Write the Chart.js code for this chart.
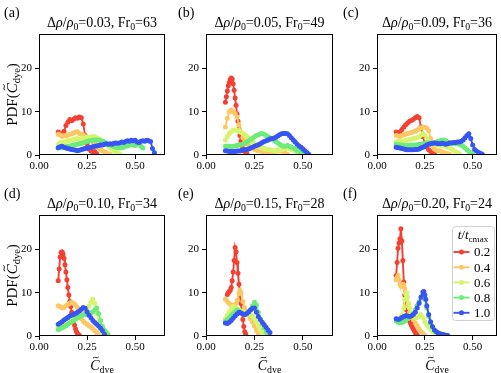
<!DOCTYPE html>
<html><head><meta charset="utf-8">
<script src="https://cdn.jsdelivr.net/npm/chart.js@4/dist/chart.umd.min.js"></script>
<style>
html,body{margin:0;padding:0;background:#fff;width:501px;height:373px;overflow:hidden;position:relative}
canvas{position:absolute}
</style></head><body>
<script>
// ---------- DATA ----------
const panelLabels = ['(a)','(b)','(c)','(d)','(e)','(f)'];
const densityRatios = ['0.03','0.05','0.09','0.10','0.15','0.20'];
const froudeNumbers = ['63','49','36','34','28','24'];
const timeFractions = ['0.2','0.4','0.6','0.8','1.0'];
const xTicks = [0, 0.25, 0.5];
const yTicks = [0, 10, 20];

// panel (a)
const a02 = [[0.10,5.3],[0.11,5.0],[0.12,4.7],[0.13,5.5],[0.14,6.8],[0.15,7.6],[0.16,8.2],[0.17,7.9],[0.18,8.3],[0.19,8.6],[0.20,8.5],[0.21,8.8],[0.22,8.6],[0.23,7.2],[0.24,4.5],[0.25,2.6],[0.26,1.4],[0.27,0.9],[0.28,0.7],[0.29,0.8],[0.30,0.3]];
const a04 = [[0.10,4.8],[0.11,4.6],[0.12,4.3],[0.13,4.5],[0.14,4.4],[0.15,4.6],[0.16,4.8],[0.17,4.9],[0.18,5.1],[0.19,5.3],[0.20,5.4],[0.21,5.0],[0.22,4.8],[0.23,4.6],[0.24,4.3],[0.25,4.0],[0.26,3.8],[0.27,3.5],[0.28,3.0],[0.29,2.6],[0.30,2.2],[0.31,1.7],[0.32,1.3],[0.33,1.0],[0.34,0.7],[0.35,0.5],[0.36,0.3],[0.37,0.2]];
const a06 = [[0.10,2.5],[0.11,2.8],[0.12,3.0],[0.13,3.0],[0.14,3.2],[0.15,3.3],[0.16,3.4],[0.17,3.5],[0.18,3.6],[0.19,3.7],[0.20,3.8],[0.21,3.6],[0.22,3.7],[0.23,3.9],[0.24,4.0],[0.25,4.1],[0.26,4.0],[0.27,4.2],[0.28,4.3],[0.29,4.2],[0.30,4.0],[0.31,3.8],[0.32,3.6],[0.33,3.2],[0.34,2.8],[0.35,2.4],[0.36,2.0],[0.37,1.7],[0.38,1.3],[0.39,1.0],[0.40,0.7],[0.41,0.4],[0.42,0.2]];
const a08 = [[0.10,1.6],[0.11,1.7],[0.12,1.8],[0.13,1.8],[0.14,1.9],[0.15,2.0],[0.16,2.1],[0.17,2.2],[0.18,2.3],[0.19,2.4],[0.20,2.5],[0.21,2.6],[0.22,2.7],[0.23,2.8],[0.24,3.0],[0.25,3.1],[0.26,3.3],[0.27,3.3],[0.28,3.4],[0.29,3.5],[0.30,3.5],[0.31,3.4],[0.32,3.3],[0.33,3.1],[0.34,3.0],[0.35,2.7],[0.36,2.5],[0.37,2.3],[0.38,2.1],[0.39,1.9],[0.40,1.8],[0.41,1.7],[0.42,1.6],[0.43,1.7],[0.44,1.8],[0.45,2.0],[0.46,2.1],[0.47,2.3],[0.48,2.4],[0.49,2.3],[0.50,2.2],[0.51,2.6],[0.52,2.5],[0.53,2.0],[0.54,1.6]];
const a10 = [[0.10,1.7],[0.11,1.9],[0.12,2.0],[0.13,1.8],[0.14,1.6],[0.15,1.5],[0.16,1.4],[0.17,1.3],[0.18,1.2],[0.19,1.1],[0.20,1.0],[0.21,1.1],[0.22,1.3],[0.23,1.4],[0.24,1.5],[0.25,1.6],[0.26,1.7],[0.27,1.8],[0.28,1.9],[0.29,2.0],[0.30,2.1],[0.31,2.2],[0.32,2.3],[0.33,2.3],[0.34,2.5],[0.35,2.6],[0.36,2.5],[0.37,2.6],[0.38,2.5],[0.39,2.7],[0.40,2.8],[0.41,2.7],[0.42,2.8],[0.43,3.0],[0.44,2.9],[0.45,3.1],[0.46,3.3],[0.47,3.2],[0.48,3.4],[0.49,3.3],[0.50,3.4],[0.51,3.0],[0.52,2.9],[0.53,3.2],[0.54,3.3],[0.55,3.2],[0.56,3.4],[0.57,3.3],[0.58,3.1],[0.59,1.5],[0.60,0.5]];

// panel (b)
const b02 = [[0.10,12.2],[0.105,13.5],[0.11,14.8],[0.115,16.0],[0.12,16.8],[0.125,17.5],[0.13,17.8],[0.135,17.6],[0.14,16.5],[0.145,15.0],[0.15,13.2],[0.155,11.5],[0.16,9.5],[0.165,7.8],[0.17,6.0],[0.175,4.5],[0.18,3.2],[0.185,2.2],[0.19,1.5],[0.20,0.8],[0.21,0.4]];
const b04 = [[0.10,6.5],[0.11,8.5],[0.12,10.0],[0.13,10.5],[0.14,10.0],[0.15,9.6],[0.16,8.8],[0.17,7.0],[0.18,5.2],[0.19,4.0],[0.20,3.2],[0.21,2.6],[0.22,2.2],[0.23,1.8],[0.24,1.5],[0.25,1.3],[0.26,1.1],[0.27,1.0],[0.28,0.9],[0.29,0.8],[0.30,0.7],[0.31,0.6],[0.32,0.5],[0.33,0.5],[0.34,0.6],[0.35,0.7],[0.36,0.8],[0.37,0.9],[0.38,1.0],[0.39,0.9],[0.40,0.7],[0.41,0.4],[0.42,0.2]];
const b06 = [[0.10,3.5],[0.11,4.3],[0.12,5.0],[0.13,5.4],[0.14,5.7],[0.15,5.8],[0.16,5.8],[0.17,5.6],[0.18,5.4],[0.19,5.0],[0.20,4.7],[0.21,4.3],[0.22,3.9],[0.23,3.4],[0.24,3.0],[0.25,2.6],[0.26,2.3],[0.27,2.0],[0.28,1.8],[0.29,1.6],[0.30,1.5],[0.31,1.4],[0.32,1.3],[0.33,1.2],[0.34,1.1],[0.35,1.0],[0.36,1.0],[0.37,1.1],[0.38,1.2],[0.39,1.3],[0.40,1.4],[0.41,1.5],[0.42,1.6],[0.43,1.5],[0.44,1.3],[0.45,1.1],[0.46,0.9],[0.47,0.6],[0.48,0.3]];
const b08 = [[0.10,2.0],[0.11,2.0],[0.12,2.0],[0.13,1.9],[0.14,2.0],[0.15,2.1],[0.16,2.2],[0.17,2.3],[0.18,2.4],[0.19,2.5],[0.20,2.7],[0.21,3.0],[0.22,3.3],[0.23,3.6],[0.24,3.9],[0.25,4.2],[0.26,4.5],[0.27,4.7],[0.28,4.9],[0.29,5.0],[0.30,4.8],[0.31,4.5],[0.32,4.2],[0.33,4.0],[0.34,3.7],[0.35,3.4],[0.36,3.1],[0.37,2.8],[0.38,2.5],[0.39,2.2],[0.40,2.0],[0.41,2.1],[0.42,2.2],[0.43,2.0],[0.44,1.8],[0.45,1.6],[0.46,1.4],[0.47,1.1],[0.48,0.8],[0.49,0.5],[0.50,0.3]];
const b10 = [[0.10,1.0],[0.11,0.9],[0.12,0.8],[0.13,0.8],[0.14,0.8],[0.15,0.8],[0.16,0.9],[0.17,0.9],[0.18,1.0],[0.19,1.1],[0.20,1.2],[0.21,1.3],[0.22,1.4],[0.23,1.6],[0.24,1.8],[0.25,2.0],[0.26,2.2],[0.27,2.4],[0.28,2.6],[0.29,2.9],[0.30,3.1],[0.31,3.3],[0.32,3.5],[0.33,3.7],[0.34,3.8],[0.35,3.9],[0.36,4.1],[0.37,4.4],[0.38,4.7],[0.39,4.9],[0.40,5.0],[0.41,5.0],[0.42,4.9],[0.43,4.5],[0.44,4.0],[0.45,3.5],[0.46,3.0],[0.47,2.5],[0.48,2.1],[0.49,1.8],[0.50,1.4],[0.51,1.0],[0.52,0.6],[0.53,0.2]];

// panel (c)
const c02 = [[0.10,5.3],[0.11,5.0],[0.12,5.3],[0.13,5.9],[0.14,6.5],[0.15,7.0],[0.16,7.4],[0.17,7.8],[0.18,8.0],[0.19,8.3],[0.20,8.6],[0.21,8.9],[0.22,8.6],[0.23,6.5],[0.24,4.2],[0.25,2.8],[0.26,1.9],[0.27,1.2],[0.28,0.8],[0.29,0.6],[0.30,0.3]];
const c04 = [[0.10,4.5],[0.11,4.4],[0.12,4.3],[0.13,4.5],[0.14,4.7],[0.15,4.8],[0.16,5.0],[0.17,5.1],[0.18,5.2],[0.19,5.4],[0.20,5.5],[0.21,5.8],[0.22,6.0],[0.23,6.3],[0.24,6.5],[0.25,6.4],[0.26,6.2],[0.27,5.6],[0.28,3.8],[0.29,2.2],[0.30,1.4],[0.31,1.1],[0.32,1.0],[0.33,0.9],[0.34,0.7],[0.35,0.5],[0.36,0.4],[0.37,0.3],[0.38,0.2]];
const c06 = [[0.10,3.0],[0.11,3.1],[0.12,3.2],[0.13,3.2],[0.14,3.3],[0.15,3.4],[0.16,3.5],[0.17,3.6],[0.18,3.7],[0.19,3.8],[0.20,3.9],[0.21,4.0],[0.22,4.2],[0.23,4.6],[0.24,5.0],[0.25,4.6],[0.26,3.8],[0.27,3.2],[0.28,2.8],[0.29,2.6],[0.30,2.5],[0.31,2.4],[0.32,2.3],[0.33,2.3],[0.34,2.2],[0.35,2.1],[0.36,2.0],[0.37,1.8],[0.38,1.6],[0.39,1.4],[0.40,1.1],[0.41,0.8],[0.42,0.5],[0.43,0.3]];
const c08 = [[0.10,2.5],[0.11,2.4],[0.12,2.3],[0.13,2.3],[0.14,2.2],[0.15,2.2],[0.16,2.2],[0.17,2.2],[0.18,2.3],[0.19,2.3],[0.20,2.3],[0.21,2.4],[0.22,2.5],[0.23,2.5],[0.24,2.6],[0.25,2.7],[0.26,2.8],[0.27,2.8],[0.28,2.8],[0.29,2.8],[0.30,2.9],[0.31,3.0],[0.32,3.2],[0.33,3.3],[0.34,3.4],[0.35,3.5],[0.36,3.3],[0.37,3.0],[0.38,2.9],[0.39,2.8],[0.40,2.7],[0.41,2.6],[0.42,2.6],[0.43,2.5],[0.44,2.3],[0.45,2.0],[0.46,1.6],[0.47,1.2],[0.48,0.8],[0.49,0.5],[0.50,0.2]];
const c10 = [[0.10,1.8],[0.11,1.7],[0.12,1.6],[0.13,1.5],[0.14,1.4],[0.15,1.3],[0.16,1.2],[0.17,1.2],[0.18,1.2],[0.19,1.2],[0.20,1.3],[0.21,1.3],[0.22,1.4],[0.23,1.6],[0.24,1.8],[0.25,2.0],[0.26,2.3],[0.27,2.5],[0.28,2.6],[0.29,2.7],[0.30,2.8],[0.31,2.7],[0.32,2.6],[0.33,2.6],[0.34,2.7],[0.35,2.6],[0.36,2.5],[0.37,2.6],[0.38,2.8],[0.39,2.8],[0.40,2.9],[0.41,2.9],[0.42,3.0],[0.43,3.0],[0.44,3.2],[0.45,3.5],[0.46,4.0],[0.47,4.5],[0.48,4.9],[0.49,3.8],[0.50,2.3],[0.51,1.3],[0.52,0.9],[0.53,0.6],[0.54,0.4],[0.55,0.2]];

// panel (d)
const d02 = [[0.10,12.8],[0.105,15.5],[0.11,18.3],[0.115,19.3],[0.12,19.5],[0.125,19.0],[0.13,18.0],[0.135,16.5],[0.14,14.8],[0.145,13.0],[0.15,11.2],[0.155,9.5],[0.16,8.0],[0.165,6.8],[0.17,5.5],[0.175,4.5],[0.18,3.5],[0.185,2.5],[0.19,1.6],[0.195,1.0],[0.20,0.6],[0.21,0.2]];
const d04 = [[0.10,7.0],[0.11,6.8],[0.12,6.5],[0.13,6.6],[0.14,7.0],[0.15,7.3],[0.16,7.6],[0.17,7.8],[0.18,7.5],[0.19,7.2],[0.20,6.6],[0.21,5.2],[0.22,4.0],[0.23,3.4],[0.24,3.0],[0.25,2.7],[0.26,2.4],[0.27,2.1],[0.28,1.7],[0.29,1.2],[0.30,0.7],[0.31,0.3]];
const d06 = [[0.10,2.0],[0.11,2.3],[0.12,2.7],[0.13,3.0],[0.14,3.3],[0.15,3.5],[0.16,3.8],[0.17,4.0],[0.18,4.3],[0.19,4.5],[0.20,4.8],[0.21,5.1],[0.22,5.4],[0.23,5.7],[0.24,6.0],[0.25,6.4],[0.26,7.0],[0.27,7.8],[0.28,8.5],[0.29,7.6],[0.30,5.2],[0.31,3.2],[0.32,1.6],[0.33,0.5]];
const d08 = [[0.10,1.5],[0.11,1.7],[0.12,1.9],[0.13,2.1],[0.14,2.4],[0.15,2.7],[0.16,3.0],[0.17,3.3],[0.18,3.6],[0.19,3.9],[0.20,4.2],[0.21,4.5],[0.22,4.7],[0.23,4.9],[0.24,5.0],[0.25,5.1],[0.26,5.2],[0.27,5.3],[0.28,5.6],[0.29,6.1],[0.30,6.5],[0.31,5.2],[0.32,3.6],[0.33,2.2],[0.34,1.4],[0.35,0.8],[0.36,0.3]];
const d10 = [[0.10,2.7],[0.11,3.0],[0.12,3.3],[0.13,3.7],[0.14,4.0],[0.15,4.3],[0.16,4.6],[0.17,4.8],[0.18,5.0],[0.19,5.2],[0.20,5.5],[0.21,5.8],[0.22,6.2],[0.23,6.6],[0.24,6.4],[0.25,5.6],[0.26,4.8],[0.27,4.2],[0.28,3.6],[0.29,3.1],[0.30,2.7],[0.31,2.3],[0.32,1.8],[0.33,1.2],[0.34,0.4]];

// panel (e)
const e02 = [[0.11,9.6],[0.115,10.0],[0.12,10.3],[0.125,10.6],[0.13,11.2],[0.135,12.8],[0.14,14.8],[0.145,17.5],[0.15,20.5],[0.155,19.5],[0.16,17.0],[0.165,14.5],[0.17,12.0],[0.175,9.5],[0.18,7.5],[0.185,5.5],[0.19,3.8],[0.195,2.2],[0.20,1.0],[0.205,0.4]];
const e04 = [[0.10,8.5],[0.11,8.0],[0.12,7.5],[0.13,7.2],[0.14,7.0],[0.15,7.3],[0.16,8.2],[0.17,9.8],[0.175,10.6],[0.18,10.0],[0.19,8.0],[0.20,6.5],[0.21,5.6],[0.22,4.8],[0.23,4.0],[0.24,3.2],[0.25,2.3],[0.26,1.3],[0.27,0.5]];
const e06 = [[0.10,4.0],[0.11,4.8],[0.12,5.6],[0.13,6.3],[0.14,6.8],[0.15,6.6],[0.16,6.3],[0.17,6.0],[0.18,5.8],[0.19,5.6],[0.20,5.5],[0.21,5.3],[0.22,5.1],[0.23,4.9],[0.24,4.6],[0.25,4.0],[0.26,3.2],[0.27,2.3],[0.28,1.4],[0.29,0.6],[0.30,0.2]];
const e08 = [[0.10,3.5],[0.11,3.8],[0.12,4.2],[0.13,4.7],[0.14,5.2],[0.15,5.6],[0.16,6.0],[0.17,5.8],[0.18,5.5],[0.19,5.2],[0.20,5.0],[0.21,5.1],[0.22,5.5],[0.23,6.2],[0.24,7.0],[0.25,7.8],[0.26,7.2],[0.27,5.5],[0.28,4.0],[0.29,2.8],[0.30,1.8],[0.31,0.9],[0.32,0.3]];
const e10 = [[0.10,3.0],[0.11,2.9],[0.12,3.2],[0.13,3.6],[0.14,4.1],[0.15,4.6],[0.16,5.1],[0.17,5.5],[0.18,5.3],[0.19,5.1],[0.20,5.0],[0.21,5.2],[0.22,5.6],[0.23,6.0],[0.24,6.4],[0.25,6.5],[0.26,5.5],[0.27,4.5],[0.28,3.8],[0.29,3.2],[0.30,2.6],[0.31,2.0],[0.32,1.4],[0.33,0.8]];

// panel (f)
const f02 = [[0.10,14.0],[0.105,17.0],[0.11,20.3],[0.115,21.5],[0.12,22.5],[0.125,24.8],[0.13,22.0],[0.135,17.5],[0.14,12.5],[0.145,9.5],[0.15,7.5],[0.155,6.0],[0.16,5.0],[0.165,4.2],[0.17,3.5],[0.175,3.0],[0.18,2.5],[0.185,2.0],[0.19,1.6],[0.195,1.2],[0.20,0.8],[0.205,0.4],[0.21,0.2]];
const f04 = [[0.10,13.0],[0.105,13.5],[0.11,14.0],[0.115,13.0],[0.12,12.0],[0.125,11.5],[0.13,11.8],[0.135,12.0],[0.14,11.8],[0.145,11.0],[0.15,10.0],[0.155,8.5],[0.16,7.0],[0.17,5.5],[0.18,4.5],[0.19,3.8],[0.20,3.0],[0.21,2.3],[0.22,1.6],[0.23,1.0],[0.24,0.5],[0.25,0.2]];
const f06 = [[0.10,4.0],[0.11,3.8],[0.12,4.0],[0.13,4.8],[0.14,6.5],[0.145,8.5],[0.15,9.8],[0.155,10.0],[0.16,9.0],[0.165,7.5],[0.17,6.5],[0.18,5.2],[0.19,4.5],[0.20,4.2],[0.21,4.3],[0.22,4.6],[0.23,5.0],[0.24,4.3],[0.25,3.3],[0.26,2.6],[0.27,2.0],[0.28,1.5],[0.29,1.1],[0.30,0.8],[0.31,0.5],[0.32,0.2]];
const f08 = [[0.10,3.5],[0.11,3.2],[0.12,3.0],[0.13,3.1],[0.14,3.3],[0.15,3.6],[0.16,4.0],[0.17,4.3],[0.18,4.6],[0.19,5.2],[0.20,6.0],[0.21,7.0],[0.22,8.0],[0.23,8.8],[0.24,9.5],[0.25,8.5],[0.26,6.5],[0.27,4.5],[0.28,3.0],[0.29,2.0],[0.30,1.3],[0.31,0.9],[0.32,0.6],[0.33,0.4],[0.34,0.2]];
const f10 = [[0.10,4.0],[0.11,3.8],[0.12,4.0],[0.13,4.3],[0.14,4.5],[0.15,4.7],[0.16,4.6],[0.17,4.5],[0.18,4.7],[0.19,5.0],[0.20,5.5],[0.21,6.5],[0.22,7.6],[0.23,9.0],[0.24,10.2],[0.245,10.3],[0.25,9.5],[0.255,8.5],[0.26,7.0],[0.27,5.0],[0.28,3.3],[0.29,2.2],[0.30,1.4],[0.31,1.0],[0.32,0.7],[0.33,0.5],[0.34,0.4],[0.35,0.3],[0.36,0.2],[0.37,0.1]];

const panelSeries = [
  [a02,a04,a06,a08,a10],[b02,b04,b06,b08,b10],[c02,c04,c06,c08,c10],
  [d02,d04,d06,d08,d10],[e02,e04,e06,e08,e10],[f02,f04,f06,f08,f10]
];
const xMaxByPanel = [0.655,0.655,0.627,0.655,0.655,0.627];
const yMax = 28;

// ---------- STYLE / LAYOUT ----------
const seriesColors = ['rgb(244,64,50)','rgb(252,200,100)','rgb(214,245,110)','rgb(110,235,120)','rgb(55,85,245)'];
const SERIF = '"Liberation Serif","DejaVu Serif",serif';
const plotBoxes = [
  {l:39,t:34,w:126,h:121},{l:206,t:34,w:127,h:121},{l:377,t:34,w:120,h:121},
  {l:39,t:215,w:126,h:121},{l:206,t:215,w:127,h:121},{l:377,t:215,w:120,h:121}
];
const labelX = [4,178,343];
const YW = 39, PT = 34, PR = 4, XH = 22, PB = 18;

function fontFor(st, size){
  const sub = st.includes('s'), it = st.includes('i');
  return (it?'italic ':'') + (sub? (size*0.7).toFixed(1) : size) + 'px ' + SERIF;
}
function drawRich(ctx, segs, x, y, size, align){
  let total = 0;
  segs.forEach(s=>{ctx.font = fontFor(s[1], size); total += ctx.measureText(s[0]).width;});
  let cx = align==='center' ? x-total/2 : (align==='right' ? x-total : x);
  ctx.textAlign='left'; ctx.textBaseline='alphabetic'; ctx.fillStyle='#000';
  segs.forEach(s=>{
    ctx.font = fontFor(s[1], size);
    const dy = s[1].includes('s') ? size*0.22 : 0;
    ctx.fillText(s[0], cx, y+dy);
    const w = ctx.measureText(s[0]).width;
    if (s[1].includes('t')) { // tilde accent over the glyph
      const c = cx + w*0.6, yt = y - size*0.86;
      ctx.save(); ctx.strokeStyle='#000'; ctx.lineWidth = size*0.06;
      ctx.beginPath(); ctx.moveTo(c-0.2*size, yt+0.04*size);
      ctx.bezierCurveTo(c-0.1*size, yt-0.1*size, c+0.1*size, yt+0.12*size, c+0.2*size, yt-0.04*size);
      ctx.stroke(); ctx.restore();
    }
    cx += w;
  });
  return total;
}

const framePlugin = {
  id:'frame',
  afterDatasetsDraw(chart){
    const {ctx, chartArea:a} = chart;
    ctx.save(); ctx.strokeStyle='#000'; ctx.lineWidth=1;
    ctx.strokeRect(Math.round(a.left)+0.5, Math.round(a.top)+0.5, Math.round(a.right-a.left)-1, Math.round(a.bottom-a.top)-1);
    ctx.restore();
  }
};

const textPlugin = {
  id:'texts',
  afterDraw(chart, args, opts){
    const {ctx, chartArea:a} = chart;
    const i = opts.index, col = i%3, row = Math.floor(i/3);
    const cxp = (a.left+a.right)/2;
    ctx.save();
    ctx.font = '14px '+SERIF; ctx.fillStyle='#000'; ctx.textAlign='left'; ctx.textBaseline='middle';
    const canvasLeft = parseFloat(chart.canvas.style.left);
    ctx.fillText(panelLabels[i], labelX[col]-canvasLeft, a.top-21);
    drawRich(ctx, [['Δ',''],['ρ','i'],['/',''],['ρ','i'],['0','s'],['='+densityRatios[i]+', Fr',''],['0','s'],['='+froudeNumbers[i],'']], cxp, a.top-12+4.5, 14, 'center');
    if (col===0){
      ctx.save();
      ctx.translate(12 - canvasLeft + 5, (a.top+a.bottom)/2);
      ctx.rotate(-Math.PI/2);
      drawRich(ctx, [['PDF(',''],['C','it'],['dye','s'],[')','']], 0, 0, 15, 'center');
      ctx.restore();
    }
    if (row===1){
      drawRich(ctx, [['C','it'],['dye','s']], cxp, a.bottom+29+4.5, 14, 'center');
    }
    if (opts.legend){
      const lx = a.left+75, ly = a.top+11, lw = 42, lh = 94;
      ctx.fillStyle='rgba(255,255,255,0.85)'; ctx.strokeStyle='#d0d0d0'; ctx.lineWidth=1;
      ctx.beginPath(); ctx.roundRect(lx+0.5, ly+0.5, lw, lh, 3); ctx.fill(); ctx.stroke();
      drawRich(ctx, [['t','i'],['/',''],['t','i'],['cmax','s']], lx+lw/2, ly+13, 13, 'center');
      chart.data.datasets.forEach((ds, k)=>{
        const yy = ly + 26 + k*15.2;
        ctx.strokeStyle = ds.borderColor; ctx.lineWidth = 1.9;
        ctx.beginPath(); ctx.moveTo(lx+1.5, yy); ctx.lineTo(lx+17.5, yy); ctx.stroke();
        ctx.fillStyle = ds.backgroundColor; ctx.beginPath(); ctx.arc(lx+9.5, yy, 2.5, 0, Math.PI*2); ctx.fill();
        ctx.fillStyle='#000'; ctx.font = '13px '+SERIF; ctx.textAlign='left'; ctx.textBaseline='middle';
        ctx.fillText(ds.label, lx+22, yy+1);
      });
    }
    ctx.restore();
  }
};

plotBoxes.forEach((b, i)=>{
  const cv = document.createElement('canvas');
  const W = YW + b.w + PR, H = PT + b.h + XH + PB;
  cv.width = W; cv.height = H;
  cv.style.left = (b.l - YW) + 'px'; cv.style.top = (b.t - PT) + 'px';
  cv.style.width = W+'px'; cv.style.height = H+'px';
  document.body.appendChild(cv);
  new Chart(cv, {
    type:'scatter',
    data:{ datasets: panelSeries[i].map((s,k)=>({
      label: timeFractions[k],
      data: s.map(p=>({x:p[0], y:p[1]})),
      showLine:true, borderColor: seriesColors[k], backgroundColor: seriesColors[k],
      borderWidth:1.9, pointRadius:2.5, pointBorderWidth:0, pointHoverRadius:0, tension:0, order:4-k
    }))},
    options:{
      responsive:false, animation:false, devicePixelRatio:1, events:[],
      layout:{padding:{top:PT, right:PR, bottom:PB, left:0}},
      plugins:{legend:{display:false}, tooltip:{enabled:false}, texts:{index:i, legend: i===5}},
      scales:{
        x:{type:'linear', min:0, max:xMaxByPanel[i],
          afterFit:s=>{s.height = XH;},
          afterBuildTicks:s=>{s.ticks = xTicks.map(v=>({value:v}));},
          ticks:{callback:v=>Number(v).toFixed(2), font:{family:SERIF, size:11}, color:'#000', padding:1, maxRotation:0, autoSkip:false},
          grid:{drawOnChartArea:false, drawTicks:true, tickLength:4, color:'#000', lineWidth:1},
          border:{display:false}},
        y:{type:'linear', min:0, max:yMax,
          afterFit:s=>{s.width = YW;},
          afterBuildTicks:s=>{s.ticks = yTicks.map(v=>({value:v}));},
          ticks:{callback:v=>String(v), font:{family:SERIF, size:11}, color:'#000', padding:3, autoSkip:false},
          grid:{drawOnChartArea:false, drawTicks:true, tickLength:4, color:'#000', lineWidth:1},
          border:{display:false}}
      }
    },
    plugins:[framePlugin, textPlugin]
  });
});
</script>
</body></html>
